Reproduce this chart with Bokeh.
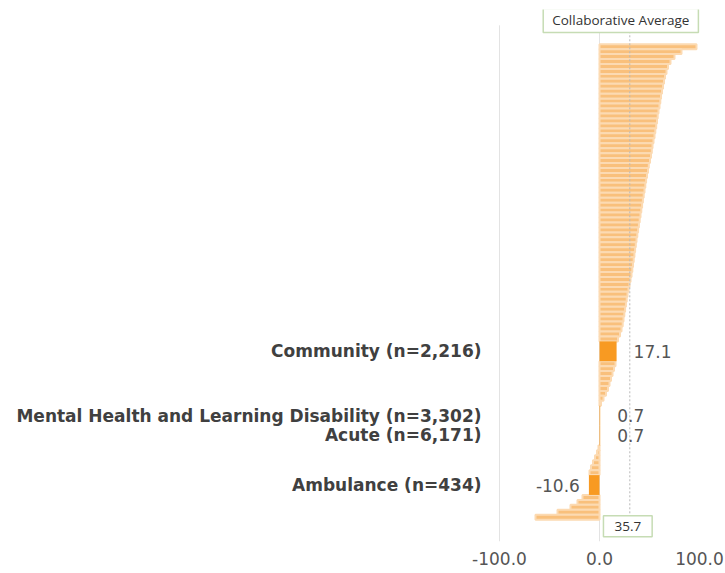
from bokeh.plotting import figure
from bokeh.models import Range1d, FixedTicker, NumeralTickFormatter, Label
from bokeh.core.properties import value
from bokeh.embed import file_html
from bokeh.resources import INLINE

# ---- data ----
trust_values = [
    97, 82, 75, 71, 68.5, 67, 65.5, 64.5, 63.5, 62.5,
    61.5, 60.8, 60, 59, 58.2, 57.5, 56.7, 55.8, 55, 54,
    53, 52.3, 51.5, 50.5, 49.3, 48.5, 47.5, 46.6, 45.8, 45,
    44.2, 43.4, 42.6, 41.8, 41, 40.2, 39.4, 38.6, 37.8, 37,
    36.3, 35.6, 34.9, 34.2, 33.5, 32.8, 32, 31, 30, 29,
    28, 27.2, 26.4, 25.6, 24.8, 24, 23.2, 22, 20.5, 18.5,
    16, 14.5, 13, 11.5, 10, 8.5, 6.5, 4, 1.5,
    -1, -2.5, -4.5, -6.5, -8.5, -10,
    -17, -22, -29, -42, -64,
]
categories = [
    "Community (n=2,216)",
    "Mental Health and Learning Disability (n=3,302)",
    "Acute (n=6,171)",
    "Ambulance (n=434)",
]
category_values = [17.1, 0.7, 0.7, -10.6]
average_line = 30.3
average_text = "35.7"
average_title = "Collaborative Average"
x_ticks = [-100, 0, 100]

# ---- build rows (sorted descending; categories are thicker rows) ----
rows = [(v, 1, None) for v in trust_values] + \
       [(v, 4, c) for v, c in zip(category_values, categories)]
rows = sorted(rows, key=lambda r: -r[0])

thin_y, thin_v, cat_y, cat_v, cat_n = [], [], [], [], []
pos = 0
for v, h, name in rows:
    centre = pos + h / 2
    if name is None:
        thin_y.append(centre); thin_v.append(v)
    else:
        cat_y.append(centre); cat_v.append(v); cat_n.append(name)
    pos += h
total_rows = pos

p = figure(width=725, height=573,
           x_range=Range1d(-110, 126), y_range=Range1d(total_rows + 4.4, -7),
           output_backend="svg", toolbar_location=None,
           min_border_left=489, min_border_right=0,
           min_border_top=9, min_border_bottom=32)
p.outline_line_color = None
p.xgrid.visible = False
p.ygrid.visible = False
p.background_fill_color = "white"
p.border_fill_color = "white"

# grid lines (-100 and 0)
grid_x = [t for t in x_ticks if t < 100]
p.segment(x0=grid_x, x1=grid_x, y0=[-3.8] * len(grid_x), y1=[total_rows + 4.4] * len(grid_x),
          line_color="#e3e3e3", line_width=1)

# thin trust bars
p.hbar(y=thin_y, right=thin_v, left=0, height=1,
       fill_color="#F9C07C", line_color="#FCDAB2", line_width=2)

# sector bars
p.hbar(y=cat_y, right=cat_v, left=0, height=4,
       fill_color="#F89A22", line_color=None)

# average dashed line
p.segment(x0=[average_line], x1=[average_line], y0=[-2.6], y1=[total_rows - 1.2],
          line_color="#b8b8b8", line_dash="2 2", line_width=1)

# value labels
pos_idx = [i for i, v in enumerate(cat_v) if v >= 0]
neg_idx = [i for i, v in enumerate(cat_v) if v < 0]
p.text(x=[cat_v[i] for i in pos_idx], y=[cat_y[i] for i in pos_idx],
       text=[f"{cat_v[i]:.1f}" for i in pos_idx],
       x_offset=17, text_align="left", text_baseline="middle",
       text_font=value("DejaVu Sans"), text_font_size="17px", text_color="#555555")
p.text(x=[cat_v[i] for i in neg_idx], y=[cat_y[i] for i in neg_idx],
       text=[f"{cat_v[i]:.1f}" for i in neg_idx],
       x_offset=-9, text_align="right", text_baseline="middle",
       text_font=value("DejaVu Sans"), text_font_size="17px", text_color="#555555")

# boxes
p.add_layout(Label(x=average_line, y=-4.8, text=average_title, x_offset=-9,
                   text_align="center", text_baseline="middle",
                   text_font="Open Sans", text_font_size="13.5px", text_color="#333333",
                   background_fill_color="white", border_line_color="#c6dcb4",
                   border_line_width=1.5, padding=(9, 3)))
p.add_layout(Label(x=average_line, y=total_rows + 1.3, text=average_text, x_offset=-2,
                   text_align="center", text_baseline="middle",
                   text_font="Open Sans", text_font_size="13.5px", text_color="#333333",
                   background_fill_color="white", border_line_color="#c6dcb4",
                   border_line_width=1.5, padding=(11, 6)))

# axes
p.xaxis.ticker = FixedTicker(ticks=x_ticks)
p.xaxis.formatter = NumeralTickFormatter(format="0.0")
p.xaxis.axis_line_color = None
p.xaxis.major_tick_line_color = None
p.xaxis.minor_tick_line_color = None
p.xaxis.major_tick_out = 0
p.xaxis.major_label_standoff = 10
p.xaxis.major_label_text_font = "DejaVu Sans"
p.xaxis.major_label_text_font_size = "17px"
p.xaxis.major_label_text_color = "#555555"

p.yaxis.ticker = FixedTicker(ticks=cat_y)
p.yaxis.major_label_overrides = {y: n for y, n in zip(cat_y, cat_n)}
p.yaxis.axis_line_color = None
p.yaxis.major_tick_line_color = None
p.yaxis.minor_tick_line_color = None
p.yaxis.major_tick_out = 0
p.yaxis.major_label_standoff = 8
p.yaxis.major_label_text_font = "DejaVu Sans"
p.yaxis.major_label_text_font_style = "bold"
p.yaxis.major_label_text_font_size = "17px"
p.yaxis.major_label_text_color = "#404040"

open("out.html", "w").write(file_html(p, INLINE))
